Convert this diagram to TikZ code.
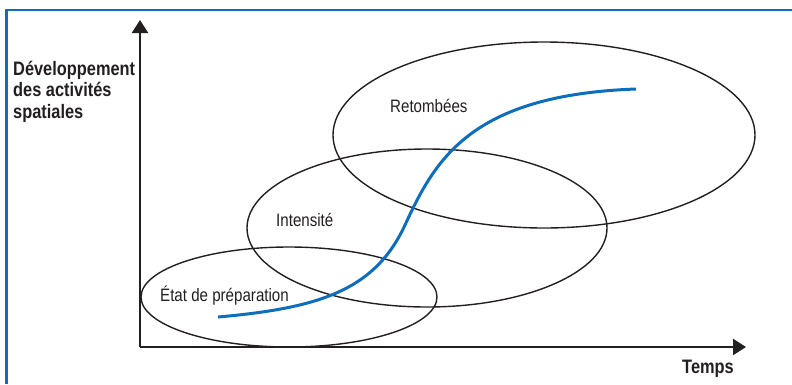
\documentclass[tikz,border=0pt]{standalone}
\usepackage{fontspec}
\setmainfont{Liberation Sans}[FakeStretch=0.84]
\usepackage{tikz}
\usetikzlibrary{arrows.meta}
\usetikzlibrary{shapes.geometric}
\definecolor{cadre}{RGB}{12,110,188}
\definecolor{encre}{RGB}{35,31,32}

\begin{document}
\begin{tikzpicture}[x=1pt, y=-1pt,
    axe/.style={line width=2.4pt, draw=encre, -{Triangle[length=13pt,width=16pt]}},
    zone/.style={ellipse, draw=encre, line width=1.4pt, inner sep=0pt},
    etiq/.style={anchor=base west, inner sep=0pt, text=encre, font=\fontsize{18}{21}\selectfont},
    titre/.style={anchor=base west, inner sep=0pt, text=encre, align=left, font=\fontsize{19.5}{21.5}\selectfont\bfseries}]
    \useasboundingbox (0,0) rectangle (792,384);

    % cadre
    \draw[cadre, line width=2.8pt] (6.5,384) -- (6.5,10) -- (792,10);

    % les trois phases
    \node[zone, minimum width=422pt, minimum height=186pt] (retombees) at (544,135) {};
    \node[zone, minimum width=360pt, minimum height=158pt] (intensite) at (427,228) {};
    \node[zone, minimum width=296pt, minimum height=100pt] (preparation) at (289,297) {};

    \node[etiq] (l-ret) at (390,112) {Retombées};
    \node[etiq] (l-int) at (276,226) {Intensité};
    \node[etiq] (l-prep) at (160,301) {État de préparation};

    % axes
    \coordinate (O) at (140,347);
    \coordinate (haut) at (140,20);
    \coordinate (droite) at (746,347);
    \draw[axe] (O) -- (haut);
    \draw[axe] (O) -- (droite);

    % base = derniere ligne
    \node[titre] (dev) at (13,118) {Développement\\des activités\\spatiales};
    \node[titre] (temps) at (682,373) {Temps};

    % courbe en S
    \coordinate (debut) at (218,317);
    \coordinate (milieu) at (405,225);
    \coordinate (fin) at (636,89);
    \draw[cadre, line width=3pt] (debut) .. controls (320,308) and (375,290) .. (milieu)
        .. controls (435,160) and (470,95) .. (fin);
\end{tikzpicture}
\end{document}
